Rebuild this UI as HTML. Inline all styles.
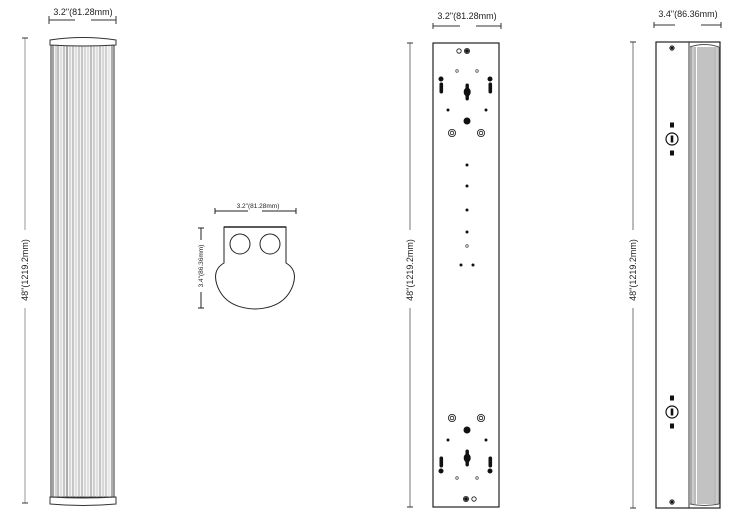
<!DOCTYPE html>
<html><head><meta charset="utf-8"><style>
html,body{margin:0;padding:0;background:#fff;width:750px;height:526px;overflow:hidden}
text{font-family:"Liberation Sans",sans-serif;fill:#222}
</style></head><body>
<svg width="750" height="526" viewBox="0 0 750 526" xmlns="http://www.w3.org/2000/svg">
<g stroke="#333" stroke-width="1" fill="none">
<line x1="49" y1="20" x2="75" y2="20"/><line x1="91" y1="20" x2="116" y2="20"/>
<line x1="49" y1="16" x2="49" y2="24"/><line x1="116" y1="16" x2="116" y2="24"/>
</g>
<text x="83" y="15" font-size="9" text-anchor="middle">3.2"(81.28mm)</text>
<line x1="25" y1="38" x2="25" y2="503" stroke="#999" stroke-width="1"/>
<line x1="22" y1="38" x2="28" y2="38" stroke="#333"/><line x1="22" y1="503" x2="28" y2="503" stroke="#333"/>
<rect x="18" y="230" width="14" height="78" fill="#fff"/>
<text transform="translate(28,270) rotate(-90)" font-size="9" text-anchor="middle">48"(1219.2mm)</text>
<rect x="51" y="45" width="63" height="452" fill="#f4f4f4" stroke="#333" stroke-width="1"/>
<g stroke-width="1">
<line x1="53" y1="45" x2="53" y2="497" stroke="#555"/>
<line x1="56" y1="45" x2="56" y2="497" stroke="#bbb"/>
<line x1="58" y1="45" x2="58" y2="497" stroke="#888"/>
<line x1="61" y1="45" x2="61" y2="497" stroke="#ccc"/>
<line x1="64" y1="45" x2="64" y2="497" stroke="#999"/>
<line x1="67" y1="45" x2="67" y2="497" stroke="#666"/>
<line x1="70" y1="45" x2="70" y2="497" stroke="#bbb"/>
<line x1="73" y1="45" x2="73" y2="497" stroke="#999"/>
<line x1="76" y1="45" x2="76" y2="497" stroke="#ccc"/>
<line x1="79" y1="45" x2="79" y2="497" stroke="#aaa"/>
<line x1="82" y1="45" x2="82" y2="497" stroke="#999"/>
<line x1="85" y1="45" x2="85" y2="497" stroke="#bbb"/>
<line x1="88" y1="45" x2="88" y2="497" stroke="#ccc"/>
<line x1="91" y1="45" x2="91" y2="497" stroke="#888"/>
<line x1="94" y1="45" x2="94" y2="497" stroke="#aaa"/>
<line x1="97" y1="45" x2="97" y2="497" stroke="#ccc"/>
<line x1="100" y1="45" x2="100" y2="497" stroke="#999"/>
<line x1="103" y1="45" x2="103" y2="497" stroke="#bbb"/>
<line x1="106" y1="45" x2="106" y2="497" stroke="#aaa"/>
<line x1="109" y1="45" x2="109" y2="497" stroke="#ddd"/>
<line x1="112" y1="45" x2="112" y2="497" stroke="#666"/>
</g>
<path d="M50 40 Q83 35 116 40 L116 45 Q83 47 50 45 Z" fill="#fff" stroke="#333" stroke-width="1"/>
<path d="M50 497 Q83 499 116 497 L116 504 Q83 507 50 504 Z" fill="#fff" stroke="#333" stroke-width="1"/>

<g stroke="#222" stroke-width="1" fill="none">
<line x1="215" y1="211" x2="248" y2="211"/><line x1="262" y1="211" x2="296" y2="211"/>
<line x1="215" y1="208" x2="215" y2="214"/><line x1="296" y1="208" x2="296" y2="214"/>
<line x1="201" y1="228" x2="201" y2="240"/><line x1="201" y1="292" x2="201" y2="308"/>
<line x1="198" y1="228" x2="204" y2="228"/><line x1="198" y1="308" x2="204" y2="308"/>
<path d="M224 227 L286 227 L286 263 Q298 270 293 285 Q285 308 255 309 Q225 308 217 285 Q212 270 224 263 Z" stroke-width="1"/>
<line x1="224" y1="227" x2="286" y2="227" stroke-width="1.6"/>
<circle cx="240" cy="244" r="10"/><circle cx="270" cy="244" r="10"/>
</g>
<text x="258" y="208" font-size="6.5" text-anchor="middle">3.2"(81.28mm)</text>
<text transform="translate(203,266) rotate(-90)" font-size="6.5" text-anchor="middle">3.4"(86.36mm)</text>

<g stroke="#333" stroke-width="1" fill="none">
<line x1="433" y1="26" x2="460" y2="26"/><line x1="476" y1="26" x2="501" y2="26"/>
<line x1="433" y1="23" x2="433" y2="29"/><line x1="501" y1="23" x2="501" y2="29"/>
<line x1="410" y1="43" x2="410" y2="507" stroke="#777"/>
<line x1="407" y1="43" x2="413" y2="43"/><line x1="407" y1="507" x2="413" y2="507"/>
</g>
<text x="467" y="19" font-size="9" text-anchor="middle">3.2"(81.28mm)</text>
<rect x="403" y="230" width="14" height="78" fill="#fff"/>
<text transform="translate(413,270) rotate(-90)" font-size="9" text-anchor="middle">48"(1219.2mm)</text>
<rect x="433" y="43" width="66" height="464" fill="#fff" stroke="#222" stroke-width="1.2"/>
<g fill="#111" stroke="#111">
<circle cx="459" cy="51" r="2.2" fill="none" stroke-width="0.8"/>
<circle cx="467" cy="51" r="2.6" fill="none" stroke-width="0.8"/><circle cx="467" cy="51" r="1.4"/>
<circle cx="457" cy="71" r="1.3" fill="none" stroke="#555" stroke-width="0.8"/>
<circle cx="477" cy="71" r="1.3" fill="none" stroke="#555" stroke-width="0.8"/>
<circle cx="441" cy="79" r="2"/><rect x="440" y="83" width="2.6" height="10" rx="1.2"/>
<circle cx="490" cy="79" r="2"/><rect x="489" y="83" width="2.6" height="10" rx="1.2"/>
<rect x="466" y="84" width="2.4" height="16" rx="1.2"/><ellipse cx="467.2" cy="92" rx="3" ry="4"/>
<circle cx="448" cy="110" r="1"/><circle cx="486" cy="110" r="1"/>
<circle cx="467" cy="121" r="3"/>
<circle cx="452" cy="133" r="3.6" fill="none" stroke-width="0.8"/><circle cx="452" cy="133" r="1.8" fill="none" stroke-width="0.8"/>
<circle cx="481" cy="133" r="3.6" fill="none" stroke-width="0.8"/><circle cx="481" cy="133" r="1.8" fill="none" stroke-width="0.8"/>
<circle cx="467" cy="165" r="1"/><circle cx="467" cy="186" r="1"/><circle cx="467" cy="210" r="1"/><circle cx="467" cy="232" r="1"/>
<circle cx="467" cy="246" r="1.3" fill="none" stroke="#555" stroke-width="0.8"/>
<circle cx="461" cy="265" r="1"/><circle cx="473" cy="265" r="1"/>
<circle cx="452" cy="418" r="3.6" fill="none" stroke-width="0.8"/><circle cx="452" cy="418" r="1.8" fill="none" stroke-width="0.8"/>
<circle cx="481" cy="418" r="3.6" fill="none" stroke-width="0.8"/><circle cx="481" cy="418" r="1.8" fill="none" stroke-width="0.8"/>
<circle cx="467" cy="430" r="3"/>
<circle cx="448" cy="440" r="1"/><circle cx="486" cy="440" r="1"/>
<rect x="466" y="450" width="2.4" height="16" rx="1.2"/><ellipse cx="467.2" cy="458" rx="3" ry="4"/>
<rect x="440" y="457" width="2.6" height="10" rx="1.2"/><circle cx="441" cy="471" r="2"/>
<rect x="489" y="457" width="2.6" height="10" rx="1.2"/><circle cx="490" cy="471" r="2"/>
<circle cx="457" cy="478" r="1.3" fill="none" stroke="#555" stroke-width="0.8"/>
<circle cx="477" cy="478" r="1.3" fill="none" stroke="#555" stroke-width="0.8"/>
<circle cx="466" cy="499" r="2.6" fill="none" stroke-width="0.8"/><circle cx="466" cy="499" r="1.4"/>
<circle cx="474" cy="499" r="2.2" fill="none" stroke-width="0.8"/>
</g>

<g stroke="#333" stroke-width="1" fill="none">
<line x1="654" y1="25" x2="675" y2="25"/><line x1="701" y1="25" x2="721" y2="25"/>
<line x1="654" y1="22" x2="654" y2="28"/><line x1="721" y1="22" x2="721" y2="28"/>
<line x1="633" y1="42" x2="633" y2="508" stroke="#777"/>
<line x1="630" y1="42" x2="636" y2="42"/><line x1="630" y1="508" x2="636" y2="508"/>
</g>
<text x="688" y="17" font-size="9" text-anchor="middle">3.4"(86.36mm)</text>
<rect x="626" y="230" width="14" height="78" fill="#fff"/>
<text transform="translate(636,270) rotate(-90)" font-size="9" text-anchor="middle">48"(1219.2mm)</text>
<rect x="656" y="42" width="64" height="466" fill="#fff" stroke="#222" stroke-width="1.2"/>
<rect x="697" y="47" width="17" height="457" fill="#c2c2c2"/>
<g stroke-width="1">
<line x1="689" y1="42" x2="689" y2="508" stroke="#333"/>
<line x1="691" y1="47" x2="691" y2="504" stroke="#555"/>
<line x1="693" y1="47" x2="693" y2="504" stroke="#999"/>
<line x1="695" y1="47" x2="695" y2="504" stroke="#777"/>
<line x1="715" y1="47" x2="715" y2="504" stroke="#777"/>
<line x1="717" y1="47" x2="717" y2="504" stroke="#999"/>
<line x1="719" y1="47" x2="719" y2="504" stroke="#555"/>
</g>
<path d="M690 47 Q704 42 719 47" fill="none" stroke="#555"/>
<path d="M690 504 Q704 507 719 504" fill="none" stroke="#555"/>
<g fill="#111" stroke="#111">
<circle cx="672" cy="48" r="2.2" fill="none" stroke-width="0.8"/><circle cx="672" cy="48" r="1"/>
<circle cx="672" cy="502" r="2.2" fill="none" stroke-width="0.8"/><circle cx="672" cy="502" r="1"/>
<rect x="670.5" y="123" width="3" height="4"/><rect x="670.5" y="151" width="3" height="4"/>
<circle cx="672" cy="139" r="6" fill="none" stroke-width="1.2"/><rect x="671.2" y="136" width="1.6" height="6"/>
<rect x="670.5" y="396" width="3" height="4"/><rect x="670.5" y="424" width="3" height="4"/>
<circle cx="672" cy="412" r="6" fill="none" stroke-width="1.2"/><rect x="671.2" y="409" width="1.6" height="6"/>
</g>
</svg>
</body></html>
